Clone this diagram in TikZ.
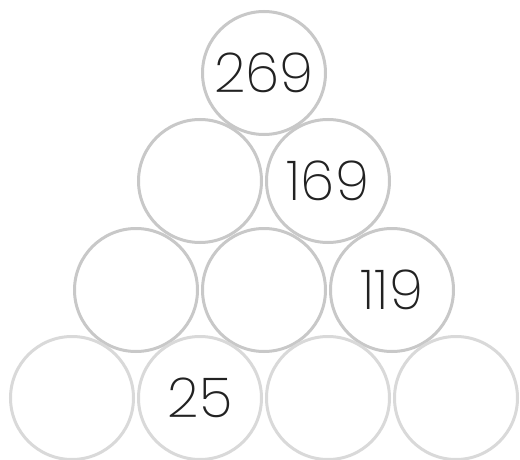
\documentclass[tikz,border=0pt]{standalone}
\usepackage{fontspec}
\setmainfont{Poppins}[UprightFont=* ExtraLight]
\usetikzlibrary{positioning}
\definecolor{ringgray}{HTML}{C8C8C8}
\definecolor{ringlight}{HTML}{D9D9D9}
\definecolor{digit}{HTML}{222222}

\begin{document}
\begin{tikzpicture}[x=1pt, y=-1pt]
\tikzstyle{brick}=[circle, draw=ringgray, line width=3pt, minimum size=123pt, inner sep=0pt, text=digit, font=\fontsize{55}{60}\selectfont]
\tikzstyle{base}=[brick, draw=ringlight]
\useasboundingbox (0,0) rectangle (520,460);
\node[brick] (a) at (264,73) {269};
\node[brick] (b) at (200,181) {};
\node[brick] (c) at (328,181) {169};
\node[brick] (d) at (136,290) {};
\node[brick] (e) at (264,290) {};
\node[brick] (f) at (392,290) {119};
\node[base] (g) at (72,398) {};
\node[base] (h) at (200,398) {25};
\node[base] (i) at (328,398) {};
\node[base] (j) at (456,398) {};
\end{tikzpicture}
\end{document}
